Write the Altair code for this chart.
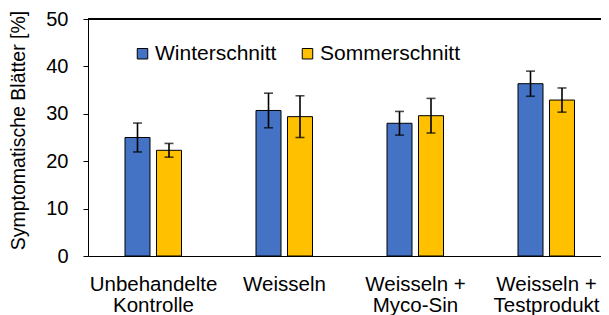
import altair as alt
import pandas as pd

categories = ["Unbehandelte|Kontrolle", "Weisseln", "Weisseln +|Myco-Sin", "Weisseln +|Testprodukt"]
series = ["Winterschnitt", "Sommerschnitt"]
winter = [25.0, 30.7, 28.0, 36.35]
winter_err = [3.05, 3.65, 2.5, 2.65]
sommer = [22.3, 29.4, 29.6, 32.9]
sommer_err = [1.45, 4.4, 3.65, 2.55]
colors = ["#4472C4", "#FFC000"]
y_ticks = [0, 10, 20, 30, 40, 50]

rows = []
for i, c in enumerate(categories):
    for s, vals, errs in ((series[0], winter, winter_err), (series[1], sommer, sommer_err)):
        rows.append({"cat": c, "series": s, "value": vals[i],
                     "lo": vals[i] - errs[i], "hi": vals[i] + errs[i]})
df = pd.DataFrame(rows)

W = 513
H = 237
FONT = "Liberation Sans"
FS = 20

x = alt.X("cat:N", sort=categories,
          scale=alt.Scale(range=[0, 524], paddingInner=0, paddingOuter=0),
          axis=alt.Axis(title=None, labelExpr="split(datum.label, '|')", labelAngle=0,
                        ticks=False, labelPadding=18, labelFontSize=20.5, labelLineHeight=21,
                        labelBaseline="top", domainColor="black", labelColor="black"))
xo = alt.XOffset("series:N", sort=series,
                 scale=alt.Scale(range=[37, 93.5], paddingInner=0.206, paddingOuter=0))

yaxis = alt.Axis(values=y_ticks, title="Symptomatische Blätter [%]", grid=False,
                 tickSize=5, tickColor="black", domainColor="black", labelPadding=15,
                 labelFontSize=FS, labelColor="black", titleFontSize=19.5,
                 titleFontWeight="normal", titleColor="black", titleX=-70, titleY=111,
                 titleBaseline="middle", titleAlign="center", titleAngle=270)
yscale = alt.Scale(domain=[0, 50], nice=False)

bars = alt.Chart(df).mark_bar(stroke="black", strokeWidth=1).encode(
    x=x, xOffset=xo,
    y=alt.Y("value:Q", scale=yscale, axis=yaxis),
    color=alt.Color("series:N", sort=series,
                    scale=alt.Scale(domain=series, range=colors),
                    legend=alt.Legend(title=None, orient="none", legendX=44, legendY=24,
                                      direction="horizontal", symbolType="square",
                                      symbolSize=110, labelFontSize=21, labelOffset=2,
                                      columnPadding=20, symbolStrokeColor="black",
                                      symbolStrokeWidth=1, labelColor="black")),
)

rules = alt.Chart(df).mark_rule(color="black", strokeWidth=1.6).encode(
    x=x, xOffset=xo,
    y=alt.Y("lo:Q", scale=yscale, axis=yaxis),
    y2="hi:Q",
)

caps_lo = alt.Chart(df).mark_tick(color="black", size=9, thickness=1.6).encode(
    x=x, xOffset=xo,
    y=alt.Y("lo:Q", scale=yscale, axis=yaxis),
)
caps_hi = alt.Chart(df).mark_tick(color="black", size=9, thickness=1.6).encode(
    x=x, xOffset=xo,
    y=alt.Y("hi:Q", scale=yscale, axis=yaxis),
)

top = alt.Chart(df).mark_rule(color="black", strokeWidth=1).encode(
    x=alt.value(0), x2=alt.value(W), y=alt.value(0)
)

chart = alt.layer(bars, rules, caps_lo, caps_hi, top).properties(
    width=W, height=H,
    autosize=alt.AutoSizeParams(type="none"),
    padding={"left": 80, "top": 11, "right": 0, "bottom": 59},
).configure(font=FONT).configure_view(stroke=None)

chart.save("out.html", embed_options={"renderer": "svg", "actions": False})
